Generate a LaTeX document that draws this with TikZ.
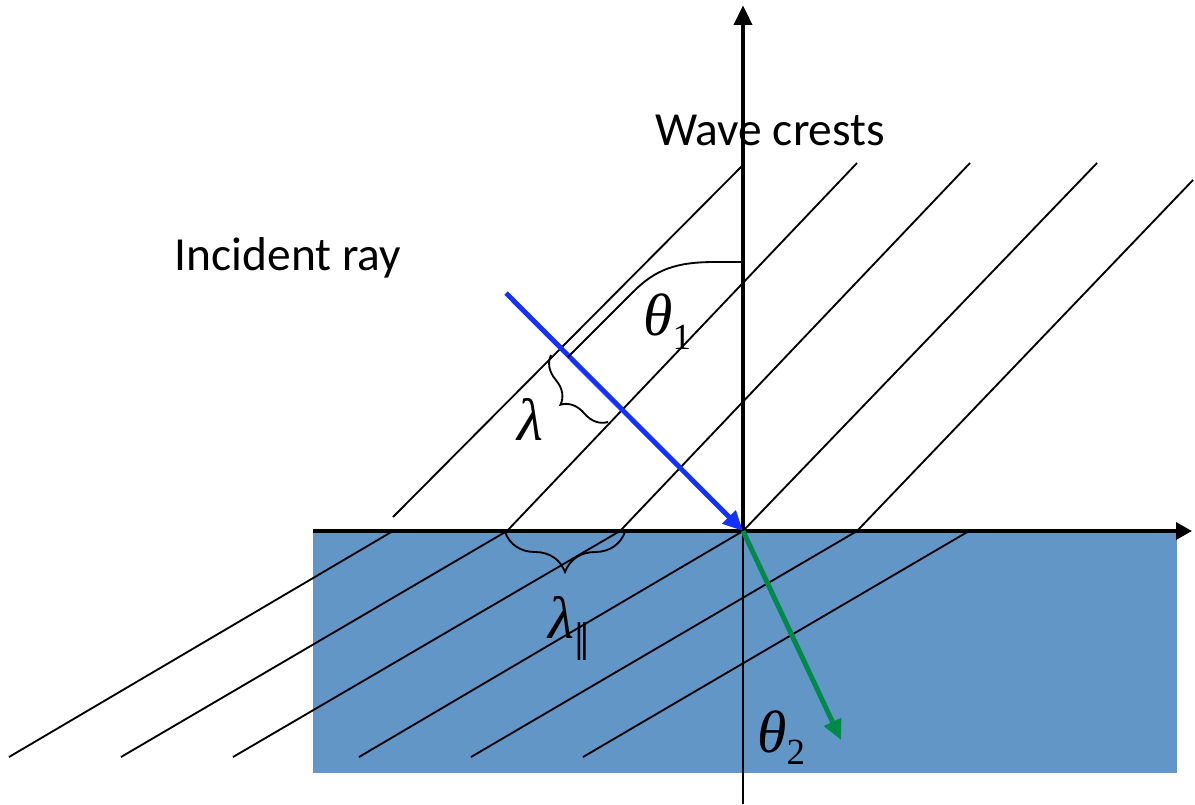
\documentclass[tikz,border=0pt]{standalone}
\usepackage{fontspec}
\setmainfont{Carlito}
\newfontfamily\greekfont{Liberation Serif}
\usepackage{xcolor}
\usetikzlibrary{arrows.meta,decorations.pathreplacing}
\definecolor{water}{RGB}{98,150,199}
\definecolor{incblue}{RGB}{20,50,255}
\definecolor{refgreen}{RGB}{0,138,74}
\newcommand{\sublab}[2]{\raisebox{#1}{\upshape\fontsize{21}{21}\selectfont #2}}

\begin{document}
\begin{tikzpicture}[x=0.02cm,y=-0.02cm,>=Latex]
  \tikzstyle{crest}=[line width=1.05pt]
  \tikzstyle{axis}=[line width=2pt,-{Triangle[length=0.32cm,width=0.34cm]}]
  \tikzstyle{ray}=[line width=2.8pt,-{Triangle[length=0.4cm,width=0.36cm]}]
  \tikzstyle{brace}=[line width=1.05pt,decorate]
  \tikzstyle{label}=[font=\fontsize{27}{27}\selectfont,inner sep=0pt]
  \tikzstyle{greek}=[font=\greekfont\itshape\fontsize{34}{34}\selectfont,inner sep=0pt,anchor=base west]
  \useasboundingbox (0,0) rectangle (1195,804);
  \coordinate (O) at (743,531);
  \coordinate (xstart) at (313,531);
  \coordinate (xend) at (1192,531);
  \coordinate (ytop) at (743,5);
  \coordinate (ybot) at (743,804);
  \coordinate (src) at (506,293);
  \coordinate (dst) at (841,740);
  \fill[water] (313,531) rectangle (1177,773);
  \foreach \xa/\xb in {393/9,507/121,620/233,743/359,857/471,969/583}
    \draw[crest] (\xa,531) -- (\xb,757);
  \foreach \xa/\ya/\xb/\yb in {393/517/743/165,507/531/857/163,620/531/970/163,743/531/1097/163,857/531/1193/180}
    \draw[crest] (\xa,\ya) -- (\xb,\yb);
  \draw[crest] (O) -- (ybot);
  \draw[axis] (xstart) -- (xend);
  \draw[line width=2.8pt,-{Triangle[length=0.4cm,width=0.35cm]}] (O) -- (ytop);
  \draw[ray,incblue] (src) -- (O);
  \draw[ray,refgreen] (O) -- (dst);
  \draw[crest] (743,262) -- (715,262) .. controls (675,262) and (655,270) .. (633,292) -- (568,357);
  \draw[brace,decoration={brace,amplitude=0.5cm}] (608,422) -- (551,355);
  \draw[brace,decoration={brace,amplitude=0.8cm}] (625,532) -- (505,532);
  \node[label] (wave) at (770,130) {Wave crests};
  \node[label] (incident) at (288,258) {Incident ray};
  \node[greek] (theta1) at (643,335) {θ\sublab{-8pt}{1}};
  \node[greek] (lambda) at (517,440) {λ};
  \node[greek] (lambdapar) at (548,638) {λ\raisebox{-13pt}{\upshape\fontsize{31}{31}\selectfont ‖}};
  \node[greek] (theta2) at (757,752) {θ\sublab{-7pt}{2}};
\end{tikzpicture}
\end{document}
